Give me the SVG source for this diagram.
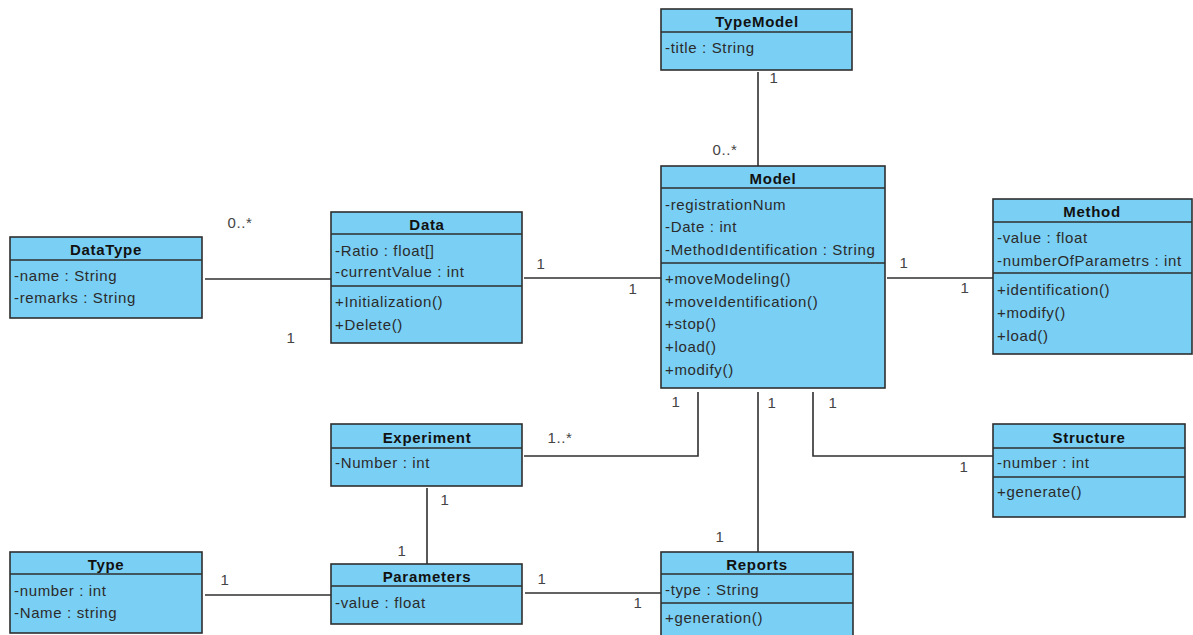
<svg xmlns="http://www.w3.org/2000/svg" width="1193" height="635" viewBox="0 0 1193 635">
<style>
.box{fill:#7acff4;stroke:#2f2f2f;stroke-width:1.6}
.sep{stroke:#2f2f2f;stroke-width:1.6}
.t{font-family:"Liberation Sans",Arial,sans-serif;font-size:15px;font-weight:bold;fill:#111;text-anchor:middle;letter-spacing:0.7px}
.a{font-family:"Liberation Sans",Arial,sans-serif;font-size:15px;fill:#2b2b2b;letter-spacing:0.65px}
.m{font-family:"Liberation Sans",Arial,sans-serif;font-size:15px;fill:#444;text-anchor:middle;letter-spacing:0.6px}
.c{fill:none;stroke:#2f2f2f;stroke-width:1.6}
</style>
<rect width="1193" height="635" fill="#ffffff"/>
<g id="connectors">
<line class="c" x1="758" y1="72" x2="758" y2="166"/>
<line class="c" x1="205" y1="279" x2="331" y2="279"/>
<line class="c" x1="524" y1="278" x2="661" y2="278"/>
<line class="c" x1="887" y1="278" x2="993" y2="278"/>
<polyline class="c" points="698,392 698,456 524,456"/>
<polyline class="c" points="813,392 813,456 993,456"/>
<line class="c" x1="758" y1="392" x2="758" y2="552"/>
<line class="c" x1="427" y1="488" x2="427" y2="564"/>
<line class="c" x1="205" y1="595" x2="331" y2="595"/>
<line class="c" x1="525" y1="593" x2="661" y2="593"/>
<text class="m" x="774" y="83">1</text>
<text class="m" x="725" y="155">0..*</text>
<text class="m" x="240" y="228">0..*</text>
<text class="m" x="291" y="343">1</text>
<text class="m" x="541" y="269">1</text>
<text class="m" x="633" y="294">1</text>
<text class="m" x="904" y="268">1</text>
<text class="m" x="965" y="293">1</text>
<text class="m" x="676" y="407">1</text>
<text class="m" x="560" y="443">1..*</text>
<text class="m" x="833" y="408">1</text>
<text class="m" x="964" y="472">1</text>
<text class="m" x="772" y="408">1</text>
<text class="m" x="720" y="542">1</text>
<text class="m" x="445" y="505">1</text>
<text class="m" x="402" y="556">1</text>
<text class="m" x="225" y="585">1</text>
<text class="m" x="542" y="584">1</text>
<text class="m" x="638" y="608">1</text>
</g>
<g id="TypeModel">
<rect class="box" x="661" y="9" width="191" height="61"/>
<line class="sep" x1="661" y1="32" x2="852" y2="32"/>
<text class="t" x="757" y="27">TypeModel</text>
<text class="a" x="665" y="53">-title : String</text>
</g>
<g id="Model">
<rect class="box" x="661" y="166" width="224" height="222"/>
<line class="sep" x1="661" y1="188" x2="885" y2="188"/>
<line class="sep" x1="661" y1="263" x2="885" y2="263"/>
<text class="t" x="773" y="184">Model</text>
<text class="a" x="665" y="210">-registrationNum</text>
<text class="a" x="665" y="232">-Date : int</text>
<text class="a" x="665" y="255">-MethodIdentification : String</text>
<text class="a" x="665" y="284">+moveModeling()</text>
<text class="a" x="665" y="307">+moveIdentification()</text>
<text class="a" x="665" y="329">+stop()</text>
<text class="a" x="665" y="352">+load()</text>
<text class="a" x="665" y="375">+modify()</text>
</g>
<g id="Data">
<rect class="box" x="331" y="212" width="191" height="131"/>
<line class="sep" x1="331" y1="234" x2="522" y2="234"/>
<line class="sep" x1="331" y1="286" x2="522" y2="286"/>
<text class="t" x="427" y="230">Data</text>
<text class="a" x="335" y="256">-Ratio : float[]</text>
<text class="a" x="335" y="277">-currentValue : int</text>
<text class="a" x="335" y="307">+Initialization()</text>
<text class="a" x="335" y="330">+Delete()</text>
</g>
<g id="DataType">
<rect class="box" x="10" y="237" width="192" height="81"/>
<line class="sep" x1="10" y1="260" x2="202" y2="260"/>
<text class="t" x="106" y="255">DataType</text>
<text class="a" x="14" y="281">-name : String</text>
<text class="a" x="14" y="303">-remarks : String</text>
</g>
<g id="Method">
<rect class="box" x="993" y="199" width="199" height="155"/>
<line class="sep" x1="993" y1="222" x2="1192" y2="222"/>
<line class="sep" x1="993" y1="273" x2="1192" y2="273"/>
<text class="t" x="1092" y="217">Method</text>
<text class="a" x="997" y="243">-value : float</text>
<text class="a" x="997" y="266">-numberOfParametrs : int</text>
<text class="a" x="997" y="295">+identification()</text>
<text class="a" x="997" y="318">+modify()</text>
<text class="a" x="997" y="341">+load()</text>
</g>
<g id="Experiment">
<rect class="box" x="331" y="424" width="191" height="62"/>
<line class="sep" x1="331" y1="448" x2="522" y2="448"/>
<text class="t" x="427" y="443">Experiment</text>
<text class="a" x="335" y="468">-Number : int</text>
</g>
<g id="Structure">
<rect class="box" x="993" y="424" width="192" height="93"/>
<line class="sep" x1="993" y1="448" x2="1185" y2="448"/>
<line class="sep" x1="993" y1="477" x2="1185" y2="477"/>
<text class="t" x="1089" y="443">Structure</text>
<text class="a" x="997" y="468">-number : int</text>
<text class="a" x="997" y="497">+generate()</text>
</g>
<g id="Type">
<rect class="box" x="10" y="552" width="192" height="81"/>
<line class="sep" x1="10" y1="574" x2="202" y2="574"/>
<text class="t" x="106" y="570">Type</text>
<text class="a" x="14" y="596">-number : int</text>
<text class="a" x="14" y="618">-Name : string</text>
</g>
<g id="Parameters">
<rect class="box" x="331" y="564" width="191" height="60"/>
<line class="sep" x1="331" y1="586" x2="522" y2="586"/>
<text class="t" x="427" y="582">Parameters</text>
<text class="a" x="335" y="608">-value : float</text>
</g>
<g id="Reports">
<rect class="box" x="661" y="552" width="192" height="90"/>
<line class="sep" x1="661" y1="574" x2="853" y2="574"/>
<line class="sep" x1="661" y1="603" x2="853" y2="603"/>
<text class="t" x="757" y="570">Reports</text>
<text class="a" x="665" y="595">-type : String</text>
<text class="a" x="665" y="623">+generation()</text>
</g>
</svg>
